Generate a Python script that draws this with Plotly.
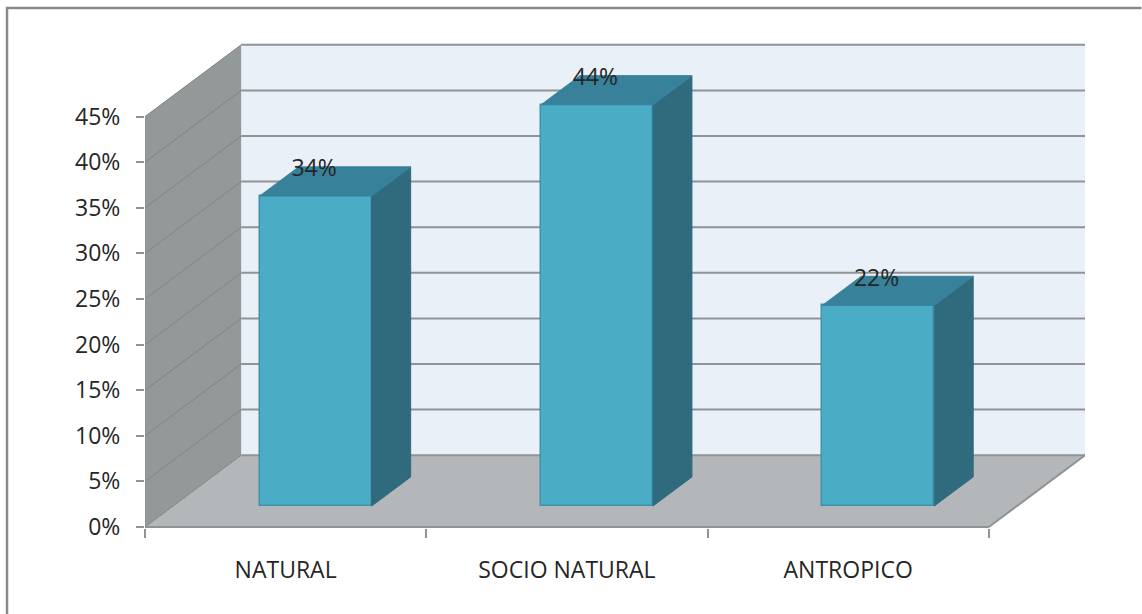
import plotly.graph_objects as go

# Chart data
categories = ["NATURAL", "SOCIO NATURAL", "ANTROPICO"]
shares = [34, 44, 22]
y_ticks = [0, 5, 10, 15, 20, 25, 30, 35, 40, 45]
x_boundaries = [0, 1, 2, 3]

# Oblique projection: how far one full unit of depth shifts a point on each axis
DEPTH_X = 0.342
DEPTH_Y = 7.87
Y_MAX = y_ticks[-1]
Y_HEADROOM = 0.2
N = len(categories)

# Bar geometry in axis units
BAR_WIDTH = 0.398
BAR_SHIFT_X = 0.107
BAR_BASE = 2.3
BAR_DEPTH = 0.405
LABEL_LIFT = 2.8
LABEL_SHIFT_X = -0.006

WALL_BACK = "#E9F0F7"
WALL_SIDE = "#939899"
FLOOR = "#B3B7BA"
BAR_FRONT = "#4BACC6"
BAR_EDGE = "#3E93AB"
BAR_SIDE = "#2F6B7D"
BAR_TOP = "#38819A"
GRID = "#8F9394"
GRID_SIDE = "#7F8485"
TEXT = "#262626"
FONT = "Open Sans"


def polygon(points, fill, line=None, width=0):
    path = "M " + " L ".join(f"{x},{y}" for x, y in points) + " Z"
    return dict(type="path", path=path, xref="x", yref="y", layer="below",
                fillcolor=fill, line=dict(color=line or fill, width=width))


def segment(p0, p1, color=GRID, width=2):
    return dict(type="line", xref="x", yref="y", layer="below",
                x0=p0[0], y0=p0[1], x1=p1[0], y1=p1[1],
                line=dict(color=color, width=width))


shapes = [
    # back wall, side wall and floor of the box
    polygon([(DEPTH_X, DEPTH_Y), (N + DEPTH_X, DEPTH_Y),
             (N + DEPTH_X, Y_MAX + DEPTH_Y), (DEPTH_X, Y_MAX + DEPTH_Y)], WALL_BACK),
    polygon([(0, 0), (DEPTH_X, DEPTH_Y), (DEPTH_X, Y_MAX + DEPTH_Y), (0, Y_MAX)], WALL_SIDE),
    polygon([(0, 0), (N, 0), (N + DEPTH_X, DEPTH_Y), (DEPTH_X, DEPTH_Y)], FLOOR),
]

# Gridlines run along the side wall and across the back wall
for t in y_ticks:
    shapes.append(segment((0, t), (DEPTH_X, t + DEPTH_Y), GRID_SIDE, 1))
    shapes.append(segment((DEPTH_X, t + DEPTH_Y), (N + DEPTH_X, t + DEPTH_Y)))

# Axis lines and the right edge of the floor
shapes += [
    segment((0, 0), (0, Y_MAX), GRID, 1.5),
    segment((0, 0), (N, 0), GRID, 2),
    segment((N, 0), (N + DEPTH_X, DEPTH_Y), GRID, 2),
]

# Outer frame: left and top edges only
shapes.append(dict(type="path", xref="paper", yref="paper", layer="below",
                   path="M -0.1468,-0.19 L -0.1468,1.072 L 1.06,1.072",
                   line=dict(color="#8A8A8A", width=2.5)))

centres = [i + 0.5 + BAR_SHIFT_X for i in range(N)]
depth_x = BAR_DEPTH * DEPTH_X
depth_y = BAR_DEPTH * DEPTH_Y

fig = go.Figure()

# Front faces of the bars
fig.add_trace(go.Bar(
    x=centres, y=shares, base=BAR_BASE, width=BAR_WIDTH,
    marker=dict(color=BAR_FRONT, line=dict(color=BAR_EDGE, width=1.5)),
    showlegend=False, hoverinfo="skip",
))

# Side and top faces, projected from the same values
for c, v in zip(centres, shares):
    left, right = c - BAR_WIDTH / 2, c + BAR_WIDTH / 2
    low, high = BAR_BASE, BAR_BASE + v
    fig.add_trace(go.Scatter(
        x=[right, right + depth_x, right + depth_x, right, right],
        y=[low, low + depth_y, high + depth_y, high, low],
        mode="lines", fill="toself", fillcolor=BAR_SIDE,
        line=dict(color=BAR_SIDE, width=1), showlegend=False, hoverinfo="skip",
    ))
    fig.add_trace(go.Scatter(
        x=[left, right, right + depth_x, left + depth_x, left],
        y=[high, high, high + depth_y, high + depth_y, high],
        mode="lines", fill="toself", fillcolor=BAR_TOP,
        line=dict(color=BAR_TOP, width=1), showlegend=False, hoverinfo="skip",
    ))

# Value labels
fig.add_trace(go.Scatter(
    x=[c + LABEL_SHIFT_X for c in centres],
    y=[BAR_BASE + v + LABEL_LIFT for v in shares],
    text=[f"{v}%" for v in shares], mode="text", textposition="middle center",
    textfont=dict(family=FONT, size=23, color=TEXT),
    showlegend=False, hoverinfo="skip",
))

fig.update_layout(
    width=1142, height=614, autosize=False,
    margin=dict(l=145, r=57, t=43, b=86, pad=0),
    paper_bgcolor="white", plot_bgcolor="white",
    shapes=shapes, bargap=0,
    font=dict(family=FONT, size=20, color=TEXT),
    xaxis=dict(
        range=[0, N + DEPTH_X], showgrid=False, zeroline=False, showline=False,
        tickmode="array", tickvals=[i + 0.5 for i in range(N)], ticktext=categories,
        ticks="", ticklabelstandoff=26, tickfont=dict(family=FONT, size=23, color=TEXT),
        minor=dict(tickmode="array", tickvals=x_boundaries, ticks="outside",
                   ticklen=9, tickwidth=2, tickcolor=GRID, showgrid=False),
    ),
    yaxis=dict(
        range=[-0.11, Y_MAX + DEPTH_Y + Y_HEADROOM], showgrid=False, zeroline=False, showline=False,
        tickmode="array", tickvals=y_ticks, ticktext=[f"{t}%" for t in y_ticks],
        ticks="outside", ticklen=8, tickwidth=2, tickcolor=GRID,
        ticklabelstandoff=11, tickfont=dict(family=FONT, size=23, color=TEXT),
    ),
)

fig.write_html("out.html")
